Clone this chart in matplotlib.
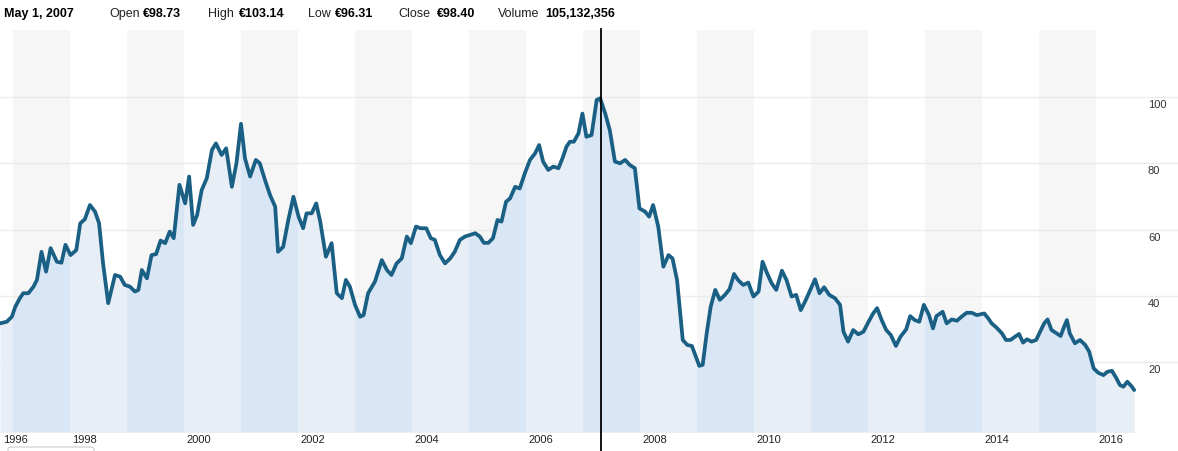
import matplotlib
matplotlib.use("Agg")
import matplotlib.pyplot as plt
from matplotlib.transforms import offset_copy
from matplotlib.lines import Line2D
from matplotlib.patches import FancyBboxPatch

plt.rcParams['font.family'] = ['Liberation Sans', 'DejaVu Sans']

# price history (decimal year, close)
years = [
    1996.77, 1996.89, 1996.98, 1997.04, 1997.12, 1997.18, 1997.27, 1997.36, 1997.42, 1997.50,
    1997.58, 1997.66, 1997.77, 1997.85, 1997.92, 1998.01, 1998.11, 1998.18, 1998.26, 1998.35,
    1998.44, 1998.51, 1998.58, 1998.67, 1998.79, 1998.88, 1998.96, 1999.05, 1999.14, 1999.20,
    1999.26, 1999.35, 1999.43, 1999.51, 1999.59, 1999.67, 1999.75, 1999.82, 1999.92, 2000.02,
    2000.09, 2000.16, 2000.23, 2000.31, 2000.40, 2000.49, 2000.56, 2000.66, 2000.74, 2000.84,
    2000.92, 2001.00, 2001.07, 2001.16, 2001.26, 2001.33, 2001.42, 2001.51, 2001.60, 2001.65,
    2001.74, 2001.83, 2001.92, 2002.01, 2002.09, 2002.15, 2002.24, 2002.32, 2002.39, 2002.49,
    2002.59, 2002.68, 2002.77, 2002.84, 2002.91, 2003.00, 2003.09, 2003.15, 2003.23, 2003.35,
    2003.47, 2003.56, 2003.64, 2003.73, 2003.82, 2003.91, 2003.98, 2004.07, 2004.15, 2004.25,
    2004.33, 2004.40, 2004.49, 2004.58, 2004.67, 2004.75, 2004.84, 2004.93, 2005.02, 2005.11,
    2005.19, 2005.26, 2005.34, 2005.42, 2005.50, 2005.57, 2005.65, 2005.72, 2005.81, 2005.89,
    2005.98, 2006.07, 2006.16, 2006.23, 2006.30, 2006.39, 2006.48, 2006.57, 2006.64, 2006.71,
    2006.77, 2006.84, 2006.92, 2006.99, 2007.06, 2007.15, 2007.24, 2007.30, 2007.39, 2007.47,
    2007.56, 2007.65, 2007.74, 2007.82, 2007.91, 2007.99, 2008.09, 2008.16, 2008.23, 2008.32,
    2008.41, 2008.50, 2008.57, 2008.65, 2008.75, 2008.83, 2008.91, 2008.98, 2009.04, 2009.10,
    2009.17, 2009.24, 2009.32, 2009.40, 2009.49, 2009.57, 2009.65, 2009.72, 2009.81, 2009.90,
    2009.99, 2010.08, 2010.15, 2010.23, 2010.31, 2010.39, 2010.49, 2010.57, 2010.66, 2010.74,
    2010.82, 2010.91, 2011.00, 2011.07, 2011.15, 2011.23, 2011.32, 2011.42, 2011.51, 2011.57,
    2011.65, 2011.74, 2011.83, 2011.92, 2012.01, 2012.09, 2012.16, 2012.24, 2012.32, 2012.40,
    2012.49, 2012.57, 2012.67, 2012.74, 2012.82, 2012.90, 2012.98, 2013.07, 2013.14, 2013.20,
    2013.31, 2013.38, 2013.47, 2013.56, 2013.64, 2013.73, 2013.82, 2013.91, 2014.04, 2014.11,
    2014.17, 2014.25, 2014.35, 2014.42, 2014.50, 2014.58, 2014.65, 2014.72, 2014.79, 2014.87,
    2014.95, 2015.02, 2015.09, 2015.15, 2015.22, 2015.31, 2015.38, 2015.44, 2015.49, 2015.54,
    2015.63, 2015.72, 2015.81, 2015.88, 2015.96, 2016.04, 2016.13, 2016.20, 2016.28, 2016.35,
    2016.42, 2016.48, 2016.55, 2016.63, 2016.67,
]
prices = [
    31.7, 32.2, 33.7, 36.7, 39.3, 40.8, 40.8, 42.8, 44.8, 53.3,
    47.3, 54.4, 50.3, 50.0, 55.4, 52.3, 53.8, 61.9, 63.1, 67.4,
    65.4, 61.9, 49.8, 37.8, 46.3, 45.8, 43.3, 42.8, 41.3, 41.8,
    47.8, 45.3, 52.3, 52.6, 56.7, 55.9, 59.4, 57.4, 73.5, 67.9,
    76.0, 61.4, 64.4, 71.9, 75.5, 84.0, 86.0, 82.5, 84.5, 72.9,
    80.0, 91.9, 81.5, 76.0, 81.0, 80.0, 75.0, 70.4, 66.9, 53.3,
    54.8, 62.9, 69.9, 63.9, 60.4, 64.9, 64.9, 67.9, 62.4, 51.8,
    55.9, 40.8, 39.3, 44.8, 42.8, 37.3, 33.7, 34.2, 40.8, 44.3,
    50.8, 47.8, 46.3, 49.8, 51.3, 57.9, 55.9, 60.9, 60.4, 60.4,
    57.4, 56.9, 52.3, 49.8, 51.3, 53.3, 56.9, 57.9, 58.4, 58.9,
    57.9, 56.0, 56.0, 57.4, 62.9, 62.4, 68.4, 69.4, 72.9, 72.4,
    77.0, 81.0, 83.0, 85.5, 80.5, 78.0, 79.0, 78.5, 81.5, 85.0,
    86.5, 86.5, 89.0, 95.0, 88.0, 88.5, 99.1, 99.6, 95.0, 90.0,
    80.5, 80.0, 81.0, 79.5, 78.5, 66.4, 65.4, 63.9, 67.4, 60.9,
    48.8, 52.3, 51.3, 44.8, 26.7, 25.2, 24.9, 21.7, 18.9, 19.2,
    28.7, 36.7, 41.8, 38.8, 40.3, 42.0, 46.6, 44.8, 43.3, 44.0,
    39.8, 41.3, 50.3, 46.8, 43.8, 41.8, 47.6, 44.8, 39.8, 40.3,
    35.7, 38.8, 42.3, 45.0, 40.8, 42.6, 40.3, 39.3, 37.3, 29.2,
    26.2, 29.7, 28.4, 29.2, 32.2, 34.7, 36.3, 32.7, 29.7, 28.2,
    24.9, 27.7, 29.9, 33.9, 32.7, 32.2, 37.3, 34.2, 30.2, 33.9,
    35.2, 31.7, 32.9, 32.5, 33.7, 34.9, 34.9, 34.2, 34.7, 33.2,
    31.7, 30.5, 28.7, 26.7, 26.7, 27.7, 28.5, 25.9, 26.9, 26.2,
    26.7, 29.2, 31.7, 32.9, 29.7, 28.7, 27.9, 30.7, 32.7, 28.7,
    25.7, 26.7, 25.2, 23.2, 18.1, 16.8, 16.1, 17.1, 17.4, 15.4,
    13.1, 12.6, 14.1, 12.6, 11.6,
]
y_ticks = [20, 40, 60, 80, 100]
x_label_years = list(range(1996, 2017, 2))
shaded_years = list(range(1997, 2016, 2))

header = [
    ("May 1, 2007", None),
    ("Open", "€98.73"),
    ("High", "€103.14"),
    ("Low", "€96.31"),
    ("Close", "€98.40"),
    ("Volume", "105,132,356"),
]

W, H = 1178, 451
fig = plt.figure(figsize=(W / 100, H / 100), dpi=100)
ax = fig.add_axes([0, (H - 432) / H, 1, 402 / H])
x0 = 1996.772
x1 = x0 + W / 57
ax.set_xlim(x0, x1)
ax.set_ylim(-1.06, 120.2)
for s in ax.spines.values():
    s.set_visible(False)
ax.set_xticks([])
ax.set_yticks([])

line_color = '#1a5f84'

# alternating year bands
for yr in shaded_years:
    ax.axvspan(yr, yr + 1, color='#f6f6f6', lw=0, zorder=0)

for v in y_ticks:
    ax.axhline(v, color='#ebebeb', lw=1, zorder=1)

fill = ax.fill_between(years, prices, -5, color='#e8eef6', lw=0, zorder=2)
clip = fill.get_paths()[0]
for yr in shaded_years:
    band = ax.axvspan(yr, yr + 1, color='#d9e6f5', lw=0, zorder=2.5)
    band.set_clip_path(clip, transform=ax.transData)

ax.plot(years, prices, color=line_color, lw=2.7, solid_joinstyle='round',
        solid_capstyle='round', zorder=4)

# y labels, sitting inside the plot on the right
ylab_tr = offset_copy(ax.get_yaxis_transform(), fig=fig, x=0, y=-8, units='dots')
for v in y_ticks:
    ax.text(1148 / W, v, str(v), transform=ylab_tr, ha='left', va='center',
            fontsize=8, color='#333333', zorder=5)

# x labels, left aligned at the start of the year
xlab_tr = offset_copy(ax.get_xaxis_transform(), fig=fig, x=0, y=-8, units='dots')
for yr in x_label_years:
    xpos = max(yr, x0 + 0.02)
    ax.text(xpos + 0.04, 0, str(yr), transform=xlab_tr, ha='left', va='center',
            fontsize=8, color='#222222', clip_on=False)

# hover cursor
fig.add_artist(Line2D([(600.5) / W] * 2, [0, (H - 29) / H], color='black', lw=1.3))

# header readout
hy = 1 - 14 / H
fig.text(4 / W, hy, header[0][0], fontsize=9, fontweight='bold', va='center')
label_x = [109, 208, 308, 398, 498]
value_x = [143, 239, 335, 437, 545]
for (lab, val), lx, vx in zip(header[1:], label_x, value_x):
    fig.text(lx / W, hy, lab, fontsize=9, va='center', color='#222222')
    fig.text(vx / W, hy, val, fontsize=9, fontweight='bold', va='center')

# navigator handle peeking at the bottom
fig.add_artist(FancyBboxPatch((8 / W, -10 / H), 86 / W, 14 / H,
                              boxstyle='round,pad=0,rounding_size=0.004',
                              transform=fig.transFigure, fc='white',
                              ec='#cccccc', lw=0.8))

fig.savefig('out.png', dpi=100)
